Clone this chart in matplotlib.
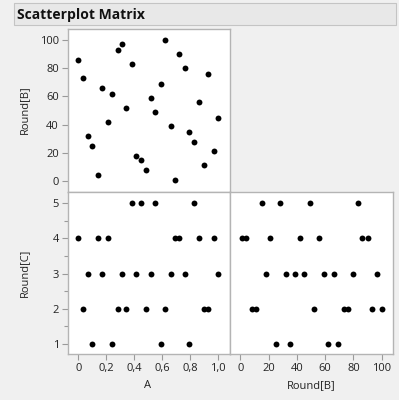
import matplotlib
matplotlib.use("Agg")
import matplotlib.pyplot as plt
from matplotlib.patches import Rectangle
from matplotlib.ticker import FuncFormatter, MultipleLocator

plt.rcParams["font.family"] = ["Open Sans", "DejaVu Sans"]

# values (30 rows)
col_a = [0.00, 0.03, 0.07, 0.10, 0.14, 0.17, 0.21, 0.24, 0.28, 0.31,
         0.34, 0.38, 0.41, 0.45, 0.48, 0.52, 0.55, 0.59, 0.62, 0.66,
         0.69, 0.72, 0.76, 0.79, 0.83, 0.86, 0.90, 0.93, 0.97, 1.00]
round_b = [86, 73, 32, 25, 4, 66, 42, 62, 93, 97,
           52, 83, 18, 15, 8, 59, 49, 69, 100, 39,
           1, 90, 80, 35, 28, 56, 11, 76, 21, 45]
round_c = [4, 2, 3, 1, 4, 3, 4, 1, 2, 3,
           2, 5, 3, 5, 2, 3, 5, 1, 2, 3,
           4, 4, 3, 1, 5, 4, 2, 2, 4, 3]

a_ticks = [0, 0.2, 0.4, 0.6, 0.8, 1.0]
b_ticks = [0, 20, 40, 60, 80, 100]
c_ticks = [1, 2, 3, 4, 5]

W, H = 399, 400
BG = "#f0f0f0"
TXT = "#222222"
EDGE = "#b4b4b4"

fig = plt.figure(figsize=(W / 100, H / 100), dpi=100)
fig.patch.set_facecolor(BG)


def px_axes(x0, y0, x1, y1):
    # pixel box (top-left origin) -> figure axes
    return fig.add_axes([x0 / W, 1 - y1 / H, (x1 - x0) / W, (y1 - y0) / H])


def px_text(x, y, s, **kw):
    return fig.text(x / W, 1 - y / H, s, **kw)


# title bar
fig.patches.append(Rectangle((14 / W, 1 - 25 / H), 382 / W, 22 / H,
                             transform=fig.transFigure, facecolor="#e8e8e8",
                             edgecolor="#c4c4c4", linewidth=0.8))
px_text(17, 14.5, "Scatterplot Matrix", fontsize=10, fontweight="bold",
        color="#111111", va="center", ha="left")

comma = FuncFormatter(lambda v, p: "0" if abs(v) < 1e-9 else f"{v:.1f}".replace(".", ","))

ax_ab = px_axes(68, 29, 230, 192)
ax_ac = px_axes(68, 192, 230, 354)
ax_bc = px_axes(230, 192, 393, 354)

for ax in (ax_ab, ax_ac, ax_bc):
    ax.set_facecolor("white")
    for s in ax.spines.values():
        s.set_color(EDGE)
        s.set_linewidth(1.0)
    ax.tick_params(direction="out", length=4.5, width=0.8, color="#9a9a9a",
                   labelsize=8, labelcolor=TXT, pad=2)
    ax.tick_params(which="minor", direction="out", length=3, width=0.8, color="#9a9a9a")

ax_ab.scatter(col_a, round_b, s=18, color="black", linewidths=0)
ax_ab.set_xlim(-0.074, 1.084)
ax_ab.set_ylim(-7.8, 107.8)
ax_ab.set_yticks(b_ticks)
ax_ab.set_xticks([])

ax_ac.scatter(col_a, round_c, s=18, color="black", linewidths=0)
ax_ac.set_xlim(-0.074, 1.084)
ax_ac.set_ylim(0.71, 5.32)
ax_ac.set_xticks(a_ticks)
ax_ac.xaxis.set_major_formatter(comma)
ax_ac.set_yticks(c_ticks)
ax_ac.yaxis.set_minor_locator(MultipleLocator(0.5))

ax_bc.scatter(round_b, round_c, s=18, color="black", linewidths=0)
ax_bc.set_xlim(-7.3, 108)
ax_bc.set_ylim(0.71, 5.32)
ax_bc.set_xticks(b_ticks)
ax_bc.set_yticks([])

lab = dict(fontsize=8, color=TXT, ha="center", va="center")
px_text(25, 110, "Round[B]", rotation=90, **lab)
px_text(25, 273, "Round[C]", rotation=90, **lab)
px_text(148, 386, "A", **lab)
px_text(311, 386, "Round[B]", **lab)

fig.savefig("out.png", dpi=100, facecolor=BG)
